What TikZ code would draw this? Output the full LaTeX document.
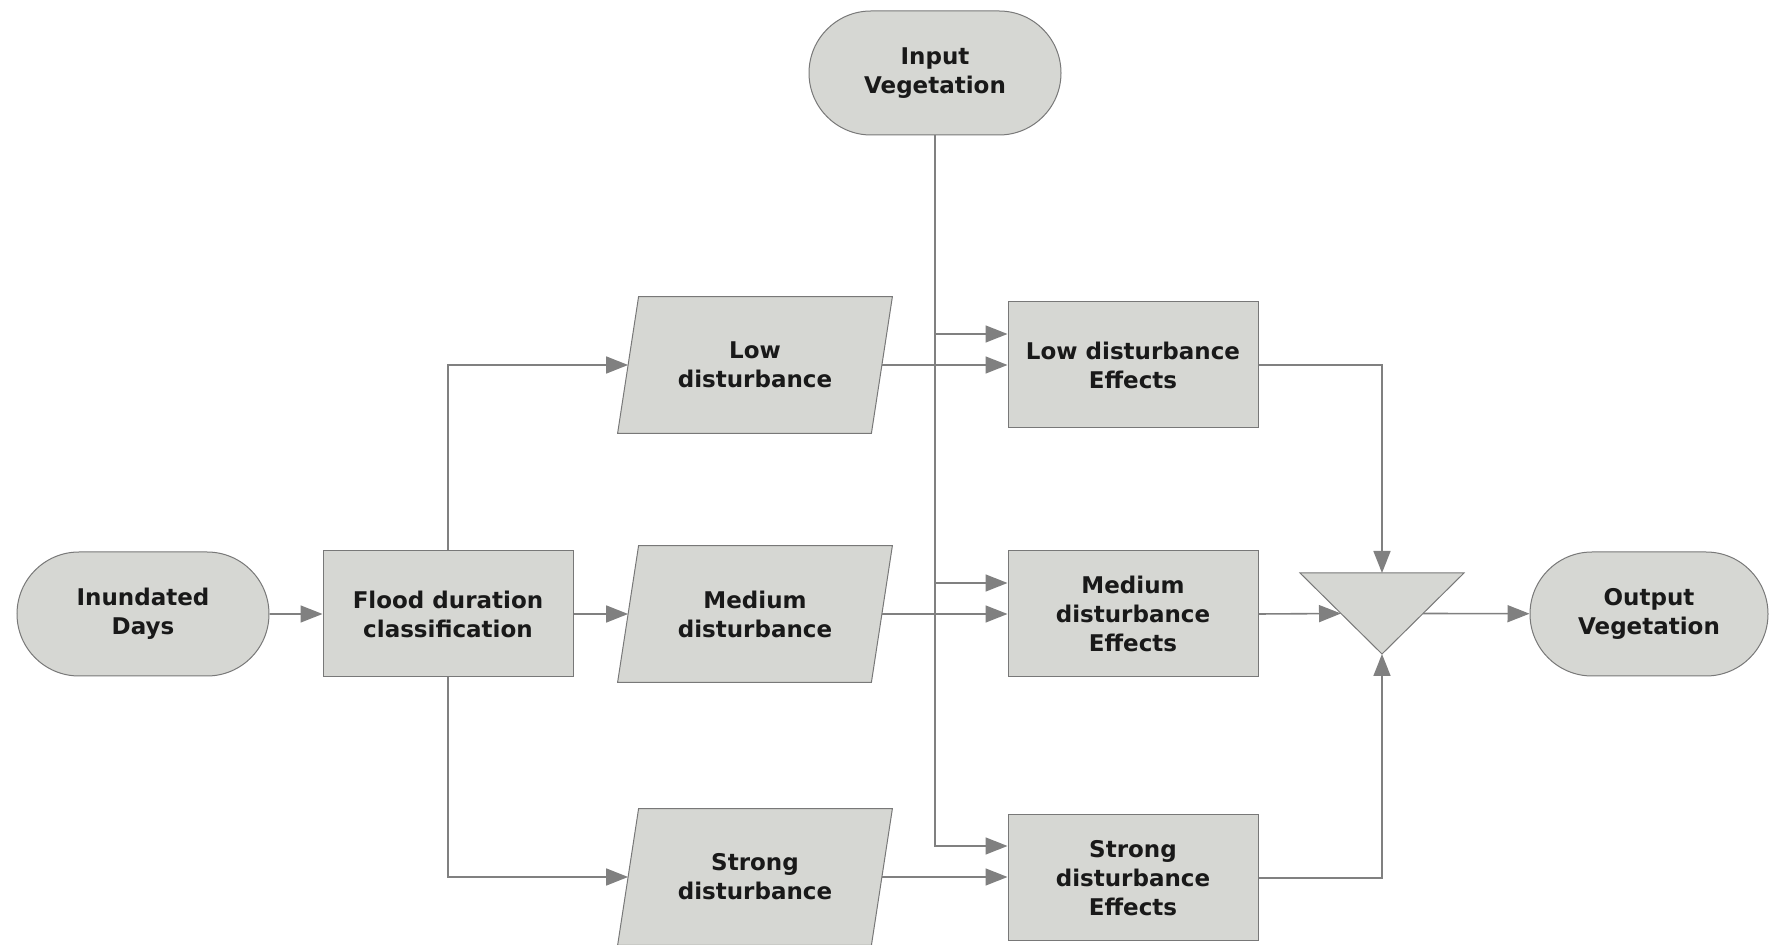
\documentclass[tikz,border=0pt]{standalone}
\usepackage{fontspec}
\setmainfont{DejaVu Sans}
\usetikzlibrary{shapes.misc,arrows.meta,calc,backgrounds}
\definecolor{boxfill}{RGB}{214,215,211}
\definecolor{edgegray}{RGB}{120,120,120}
\definecolor{linegray}{RGB}{128,128,128}
\definecolor{txt}{RGB}{25,25,25}
% parallelogram drawn behind a (borderless) data node: top edge shifted right
\newcommand{\slantbox}[1]{%
  \draw[shapefill] ([xshift=-5.25pt]#1.south west) -- ([xshift=-5.25pt]#1.south east)
    -- ([xshift=5.25pt]#1.north east) -- ([xshift=5.25pt]#1.north west) -- cycle;}
\begin{document}
\begin{tikzpicture}[x=0.5pt,y=-0.5pt,
  shapefill/.style={draw=edgegray, line width=0.5pt, fill=boxfill},
  label/.style={text=txt, font=\bfseries\fontsize{11.5}{14.5}\selectfont, align=center, inner sep=0pt},
  base/.style={shapefill, label},
  terminal/.style={base, rounded rectangle, minimum width=126pt, minimum height=62pt},
  procbox/.style={base, rectangle, minimum width=125pt, minimum height=63pt},
  databox/.style={label, rectangle, minimum width=126.5pt, minimum height=68pt},
  link/.style={draw=linegray, line width=0.8pt},
  flow/.style={link, -{Triangle[length=11pt,width=8.5pt]}}]
\useasboundingbox (0,0) rectangle (1769,945);

% terminals
\node[terminal] (invg) at (935,73) {Input\\Vegetation};
\node[terminal] (inund) at (143,614) {Inundated\\Days};
\node[terminal, minimum width=119pt] (out) at (1649,614) {Output\\Vegetation};

% classification
\node[procbox] (flood) at (448,614) {Flood duration\\classification};

% disturbance classes
\node[databox] (low) at (755,365) {Low\\disturbance};
\node[databox] (med) at (755,614) {Medium\\disturbance};
\node[databox] (strong) at (755,877) {Strong\\disturbance};
\begin{scope}[on background layer]
  \slantbox{low}
  \slantbox{med}
  \slantbox{strong}
\end{scope}

% effects
\node[procbox] (lowE) at (1133,365) {Low disturbance\\Effects};
\node[procbox] (medE) at (1133,614) {Medium\\disturbance\\Effects};
\node[procbox] (strE) at (1133,878) {Strong\\disturbance\\Effects};

% merge triangle
\coordinate (mTL) at (1300,573);
\coordinate (mTR) at (1464,573);
\coordinate (mApex) at (1382,654);
\draw[shapefill] (mTL) -- (mTR) -- (mApex) -- cycle;
\coordinate (mTop) at ($(mTL)!0.5!(mTR)$);
\coordinate (mIn) at ($(mTL)!0.5!(mApex)$);
\coordinate (mOut) at ($(mTR)!0.5!(mApex)$);

% connectors
\draw[flow] (inund) -- (flood);
\draw[flow] (flood) -- (med.west);
\draw[flow] (flood.north) |- (low.west);
\draw[flow] (flood.south) |- (strong.west);

\draw[flow] (invg.south) |- ([yshift=15.5pt]lowE.west);
\draw[flow] (invg.south) |- ([yshift=15.5pt]medE.west);
\draw[flow] (invg.south) |- ([yshift=16pt]strE.west);

\draw[flow] (low.east) -- (lowE.west);
\draw[flow] (med.east) -- (medE.west);
\draw[flow] (strong.east) -- (strong.east -| strE.west);

\draw[flow] (lowE.east) -| (mTop);
\draw[flow] (medE.east) -- (mIn);
\draw[flow] (strE.east) -| (mApex);
\draw[flow] (mOut) -- (out);
\end{tikzpicture}
\end{document}
